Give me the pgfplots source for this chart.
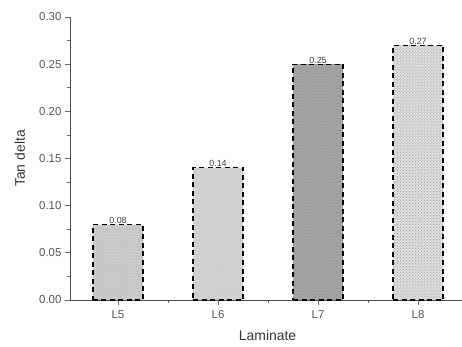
\documentclass[border=0pt]{standalone}
\usepackage{pgfplots}
\pgfplotsset{compat=1.18}
\usepackage{fontspec}
\setmainfont{Liberation Sans}
\usetikzlibrary{patterns}
\definecolor{txt}{HTML}{555555}
\begin{document}
\begin{tikzpicture}
\begin{axis}[
  scale only axis,
  width=392bp, height=283bp,
  xmin=-0.48, xmax=3.44,
  ymin=0, ymax=0.30,
  axis x line*=bottom, axis y line*=left,
  axis line style={black!70, line width=0.9pt},
  xtick={0,1,2,3},
  xticklabels={L5,L6,L7,L8},
  minor xtick={0.5,1.5,2.5},
  ytick={0,0.05,...,0.301},
  minor ytick={0.025,0.075,...,0.28},
  tick align=outside,
  major tick length=5bp, minor tick length=3bp,
  tick style={black!60, line width=0.8pt},
  /pgf/number format/assume math mode=true,
  yticklabel style={/pgf/number format/fixed, /pgf/number format/precision=2, /pgf/number format/fixed zerofill, font=\fontsize{11.5}{13}\selectfont, text=txt},
  xticklabel style={font=\fontsize{11.5}{13}\selectfont, text=txt, yshift=-2bp},
  xlabel={Laminate}, ylabel={Tan delta},
  xlabel style={at={(rel axis cs:0.504,-0.127)}, anchor=center, font=\fontsize{14}{16}\selectfont, text=black!80},
  ylabel style={at={(rel axis cs:-0.128,0.5)}, anchor=center, font=\fontsize{14}{16}\selectfont, text=black!80},
  ybar, bar shift=0pt, bar width=0.5,
  nodes near coords,
  every node near coord/.append style={font=\fontsize{9}{10}\selectfont, text=black!75, /pgf/number format/fixed, /pgf/number format/precision=2, /pgf/number format/fixed zerofill, yshift=-3bp},
  clip=false,
]
\addplot[draw=black, dash pattern=on 5bp off 3.5bp, line width=1.1pt, fill=black!22, postaction={pattern=dots, pattern color=white!85!black}] coordinates {(0,0.08)};
\addplot[draw=black, dash pattern=on 5bp off 3.5bp, line width=1.1pt, fill=black!19, postaction={pattern=dots, pattern color=white!85!black}] coordinates {(1,0.14)};
\addplot[draw=black, dash pattern=on 5bp off 3.5bp, line width=1.1pt, fill=black!35, postaction={pattern=crosshatch dots, pattern color=black!45}] coordinates {(2,0.25)};
\addplot[draw=black, dash pattern=on 5bp off 3.5bp, line width=1.1pt, fill=black!12, postaction={pattern=crosshatch dots, pattern color=black!40}] coordinates {(3,0.27)};
\end{axis}
\pgfresetboundingbox
\path (current axis.south west) ++(-70bp,-47bp) rectangle ++(462bp,347bp);
\end{tikzpicture}
\end{document}
